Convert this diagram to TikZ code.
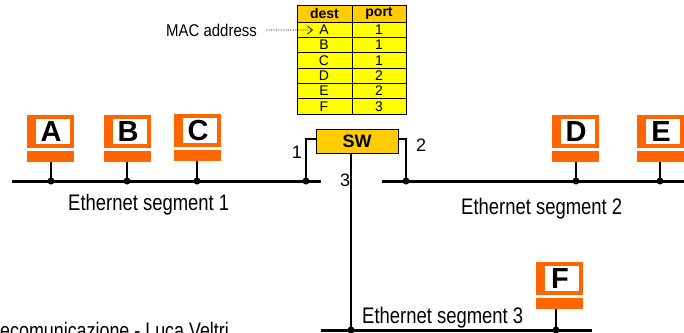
\documentclass[tikz,border=0pt]{standalone}
\usepackage{fontspec}
\setmainfont{Liberation Sans}
\usetikzlibrary{arrows.meta}
\definecolor{hostorange}{HTML}{FF6600}
\definecolor{hdryellow}{HTML}{FFCC00}
\definecolor{rowyellow}{HTML}{FFFF00}
\newcommand\nrw[2]{\scalebox{#1}[1]{#2}}
\newcommand\hostpc[4]{%
  \fill[hostorange] (#2,#3) rectangle ++(47,33);
  \fill[white] ({#2+9},{#3+4}) rectangle ++(34,25);
  \fill[hostorange] (#2,{#3+36}) rectangle ++(47,11);
  \node[hostlbl] (#1) at ({#2+24},{#3+16.5}) {#4};
  \coordinate (#1-bot) at ({#2+23.5},{#3+47});
}
\begin{document}
\begin{tikzpicture}[x=1pt,y=-1pt,
  seg/.style={line width=3pt},
  wire/.style={line width=1.8pt},
  tap/.style={circle,fill=black,inner sep=0pt,minimum size=7pt},
  hostlbl/.style={inner sep=0pt,font=\bfseries\fontsize{29}{32}\selectfont},
  tbl/.style={inner sep=0pt,font=\fontsize{14}{16}\selectfont},
  tblhd/.style={inner sep=0pt,font=\bfseries\fontsize{14}{16}\selectfont},
  seglbl/.style={inner sep=0pt,anchor=base west,font=\fontsize{22.5}{26}\selectfont},
  portlbl/.style={inner sep=0pt,font=\fontsize{18}{20}\selectfont},
  cellline/.style={draw=black,line width=0.7pt}]
\useasboundingbox (0,0) rectangle (684,332);

% MAC table
\filldraw[fill=hdryellow,cellline] (297,5) rectangle (406,22);
\filldraw[fill=rowyellow,cellline] (297,22) rectangle (406,114);
\foreach \k in {1,...,5} \draw[cellline] (297,{22+15.333*\k}) -- (406,{22+15.333*\k});
\draw[cellline] (352,5) -- (352,114);
\node[tblhd] (hdest) at (324.5,13.5) {dest};
\node[tblhd] (hport) at (379,13.5) {port};
\foreach \i/\d/\p in {0/A/1,1/B/1,2/C/1,3/D/2,4/E/2,5/F/3}{
  \node[tbl] (d\d) at (324,{22+15.333*(\i+0.5)}) {\d};
  \node[tbl] (p\d) at (379,{22+15.333*(\i+0.5)}) {\p};
}
\node[inner sep=0pt,anchor=base east,font=\fontsize{17}{20}\selectfont] (mac) at (257,36) {\nrw{0.88}{MAC address}};
\coordinate (macend) at (313,30);
\draw[densely dotted,line width=0.7pt,-{Straight Barb[length=5pt,width=8pt]}] ([xshift=9pt]mac.east) -- (macend);

% hosts
\hostpc{A}{27}{115}{A}
\hostpc{B}{104}{115}{B}
\hostpc{C}{174}{114}{C}
\hostpc{D}{552}{115}{D}
\hostpc{E}{637}{115}{E}
\hostpc{F}{536}{262}{F}

% segments
\coordinate (s1a) at (12,181);  \coordinate (s1b) at (321,181);
\coordinate (s2a) at (382,181); \coordinate (s2b) at (684,181);
\coordinate (s3a) at (321,330); \coordinate (s3b) at (592,330);
\draw[seg] (s1a) -- (s1b);
\draw[seg] (s2a) -- (s2b);
\draw[seg] (s3a) -- (s3b);

% taps
\node[tap] (tA) at (51,181) {};
\node[tap] (tB) at (127,181) {};
\node[tap] (tC) at (197,181) {};
\node[tap] (t1) at (306,181) {};
\node[tap] (t2) at (406,181) {};
\node[tap] (tD) at (576,181) {};
\node[tap] (tE) at (660,181) {};
\node[tap] (t3) at (351,330) {};
\node[tap] (tF) at (556,330) {};
\foreach \h in {A,B,C,D,E,F} \draw[wire] (t\h.center) -- (t\h.center |- \h-bot);

% switch
\node[draw=black,fill=hdryellow,line width=0.7pt,minimum width=82pt,minimum height=24pt,inner sep=0pt,
      font=\bfseries\fontsize{18}{20}\selectfont] (SW) at (357,141) {SW};
\draw[wire] (t1.center) |- ([yshift=2pt]SW.west);
\draw[wire] ([yshift=2pt]SW.east) -| (t2.center);
\draw[wire] (SW.south -| t3) -- (t3.center);

\node[portlbl] (l1) at (297,152) {1};
\node[portlbl] (l2) at (421,145) {2};
\node[portlbl] (l3) at (345,180) {3};

% labels
\node[seglbl] (e1) at (68,210.5) {\nrw{0.82}{Ethernet segment 1}};
\node[seglbl] (e2) at (461,214) {\nrw{0.82}{Ethernet segment 2}};
\node[seglbl] (e3) at (362,323) {\nrw{0.82}{Ethernet segment 3}};
\node[seglbl] (foot) at (0,338) {\nrw{0.795}{ecomunicazione - Luca Veltri}};
\end{tikzpicture}
\end{document}
